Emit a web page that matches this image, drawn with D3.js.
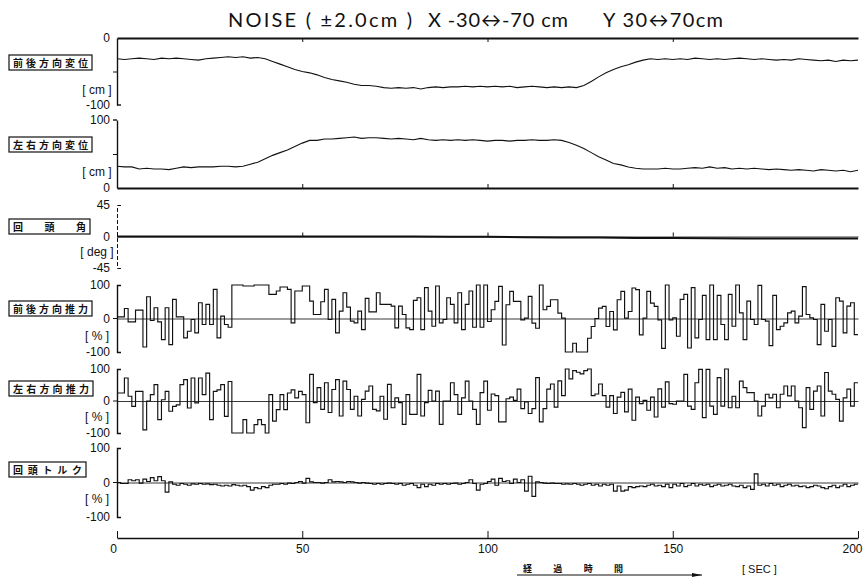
<!DOCTYPE html>
<html>
<head>
<meta charset="utf-8">
<script src="https://cdn.jsdelivr.net/npm/d3@7"></script>
<style>
  body { margin: 0; background: #fff; }
  svg { display: block; }
  .num { font-family: "Liberation Sans Narrow", "Liberation Sans", sans-serif; font-size: 12px; fill: #111; }
  .jp { font-family: "Noto Sans CJK JP", sans-serif; font-size: 10px; font-weight: 600; fill: #111; }
</style>
</head>
<body>
<svg id="chart" width="863" height="578"></svg>
<script>
// ---------- data ----------
const timeTicks = [0, 50, 100, 150, 200];

// 前後方向変位 [cm], one value every 2 s (t = 0 … 200)
const surgePosition = [
  -31,-32,-31,-30,-31,-32,-30,-31,-30,-31,-32,-33,-31,-30,-29,-28,-29,-28,-30,-29,
  -31,-35,-39,-43,-47,-50,-52,-55,-59,-62,-64,-66,-69,-71,-71,-72,-74,-75,-74,-75,
  -74,-76,-74,-73,-74,-73,-73,-72,-73,-72,-73,-72,-73,-72,-74,-73,-72,-73,-74,-73,
  -74,-73,-74,-71,-65,-58,-52,-47,-43,-40,-36,-33,-31,-32,-31,-32,-31,-32,-30,-31,
  -32,-31,-32,-31,-30,-31,-32,-31,-32,-33,-32,-33,-31,-32,-33,-34,-33,-35,-33,-34,-33
];

// 左右方向変位 [cm], one value every 2 s (t = 0 … 200)
const swayPosition = [
  32,31,31,28,29,28,28,27,29,31,30,31,31,31,32,32,31,32,35,38,
  43,48,52,56,61,66,70,70,72,72,73,74,75,73,74,74,73,72,73,72,
  71,73,71,70,71,70,71,70,71,70,69,70,70,69,70,70,71,70,70,71,
  70,67,63,58,52,46,41,36,34,31,29,28,28,28,29,28,28,29,30,29,
  31,29,30,28,29,28,29,28,27,28,27,26,27,26,25,27,26,25,26,24,26
];

// 回頭角 [deg], one value every 10 s (t = 0 … 200)
const yawAngle = [0,0,0,0,0,0,0,0,0,-0.5,-0.5,-1,-1.5,-1.5,-2,-2,-2.5,-3,-3,-3,-3];

// 前後方向推力 [%], held for 1 s each (t = 0 … 199)
const surgeThrust = [
  5,5,30,-10,-10,25,25,-85,65,-6,
  32,-10,-63,32,-78,57,5,5,-58,-38,
  -3,-43,47,-18,42,-18,87,-58,7,-18,
  -26,100,100,100,97,97,97,100,100,100,
  100,72,72,82,94,94,87,-13,82,82,
  97,97,52,12,12,50,87,-3,57,-43,
  22,77,34,-8,-13,22,-33,60,20,20,
  77,42,42,42,37,-28,37,12,-28,-33,
  54,62,-33,92,22,-23,97,-13,-3,62,
  42,-13,77,-33,42,82,-26,100,-26,100,
  -9,26,51,96,-79,41,81,51,51,-4,
  1,66,-14,-29,100,26,36,56,56,16,
  1,-100,-100,-74,-100,-100,-100,-59,-24,0,
  31,36,-24,21,-34,56,81,1,21,91,
  86,-49,1,81,46,36,-4,-89,100,-4,
  2,-53,57,72,-88,92,-58,-3,69,-63,
  100,-63,69,-18,-63,72,-23,100,17,-63,
  52,-3,-18,99,-3,-8,-81,69,-33,-23,
  -13,17,22,-13,7,95,12,2,-3,-78,
  42,-38,-3,-83,62,52,-43,37,47,-48
];

// 左右方向推力 [%], held for 1 s each (t = 0 … 199)
const swayThrust = [
  25,25,72,15,-17,30,30,-90,0,20,
  51,-58,4,30,-32,-17,-12,51,67,-22,
  72,-6,72,20,87,-58,30,35,51,-48,
  61,-100,-100,-100,-58,-100,-100,-74,-58,-74,
  -100,20,-63,-27,20,-27,25,35,10,30,
  20,-68,83,-5,42,-26,57,-36,36,67,
  -47,62,36,-26,15,-47,5,31,47,-26,
  -31,15,-57,52,-21,10,-5,-73,20,-42,
  -42,83,-47,-5,33,0,31,-73,0,0,
  57,20,-42,10,62,0,-26,-73,26,62,
  -29,22,17,-65,-65,7,12,2,37,-24,
  -3,-39,-24,73,-65,-24,37,53,-19,63,
  17,100,69,95,90,85,95,100,17,22,
  53,17,-19,17,-39,12,27,-34,37,-60,
  12,-8,2,-29,12,-50,38,-19,60,-8,
  -10,0,0,83,-16,-26,57,99,-52,99,
  -16,-42,73,-16,100,-21,15,-21,62,42,
  26,26,0,-47,-16,21,10,21,-21,21,
  47,16,47,0,-21,-83,42,-26,31,47,
  -47,89,31,21,5,-63,10,37,-16,57
];

// 回頭トルク [%], held for 1 s each (t = 0 … 199)
const yawTorque = [
  0,-3,-3,8,5,8,-2,10,3,14,
  5,17,5,-28,2,-5,-8,-3,-5,-8,
  -4,-5,-3,-5,-4,-6,-5,-8,-10,-8,
  -10,-6,-8,-10,-8,-12,-22,-15,-18,-12,
  -15,-8,-5,-5,-3,-5,-2,-3,0,3,
  -2,12,2,0,0,-2,0,8,2,3,
  2,0,3,2,0,-2,0,-2,-3,-5,
  -3,-5,-3,-2,-3,-5,-3,-8,-5,-3,
  -8,-15,-5,-12,-5,-8,-3,-5,-3,-5,
  -3,-2,-5,-3,0,8,-3,-22,-5,-3,
  3,10,-8,12,3,5,-3,10,0,8,
  -25,18,-40,2,0,-2,-3,-2,-3,-3,
  -5,-4,-5,-3,-5,-8,-5,-3,-8,-5,
  -10,-5,-8,-5,-25,-10,-25,-22,-12,-15,
  -12,-10,-12,-8,-5,-10,-8,-12,-5,-15,
  -5,-10,-3,-12,-8,-3,-10,-5,-8,-5,
  -12,-8,-5,-10,-8,-5,-10,-12,-8,-15,
  -10,-20,25,-8,-5,-10,-3,-8,-5,-12,
  -8,-5,-10,-8,-12,-10,-15,-12,-8,-10,
  -15,-18,-12,-8,-15,-10,-5,-12,-8,-5
];

const panelNames = ["前後方向変位", "左右方向変位", "回頭角", "前後方向推力", "左右方向推力", "回頭トルク"];
const unitNames  = ["[ cm ]", "[ cm ]", "[ deg ]", "[ % ]", "[ % ]", "[ % ]"];
const axisTickLabels = [[0, -100], [100, 0], [45, 0, -45], [100, 0, -100], [100, 0, -100], [100, 0, -100]];

// ---------- layout ----------
const svg = d3.select("#chart");
const x = d3.scaleLinear().domain([0, 200]).range([117, 858]);

const panels = [
  { values: surgePosition, step: 2, kind: "line", domain: [-100, 0],   top: 38,  bottom: 105, boxY: 55,  boxW: 83, unitY: 94,  mid: -50 },
  { values: swayPosition,  step: 2, kind: "line", domain: [0, 100],    top: 120, bottom: 188, boxY: 137, boxW: 83, unitY: 176, mid: 50 },
  { values: yawAngle,      step: 10, kind: "line", domain: [-45, 45],  top: 205, bottom: 268, boxY: 219, boxW: 81, unitY: 256 },
  { values: surgeThrust,   step: 1, kind: "step", domain: [-100, 100], top: 285, bottom: 352, boxY: 301, boxW: 83, unitY: 340 },
  { values: swayThrust,    step: 1, kind: "step", domain: [-100, 100], top: 369, bottom: 433, boxY: 381, boxW: 84, unitY: 421 },
  { values: yawTorque,     step: 1, kind: "step", domain: [-100, 100], top: 448, bottom: 517, boxY: 462, boxW: 77, unitY: 503 }
];

// ---------- title ----------
const title = svg.append("g")
  .style("font-family", "Lato, 'Open Sans', sans-serif")
  .style("font-size", "20px")
  .attr("fill", "#111");
title.append("text").attr("x", 228).attr("y", 27).attr("textLength", 184).attr("lengthAdjust", "spacing").text("NOISE ( ±2.0cm )");
title.append("text").attr("x", 428).attr("y", 27).attr("textLength", 140).attr("lengthAdjust", "spacing").text("X -30↔-70 cm");
title.append("text").attr("x", 603).attr("y", 27).attr("textLength", 120).attr("lengthAdjust", "spacing").text("Y 30↔70cm");

// ---------- panels ----------
panels.forEach((p, i) => {
  const y = d3.scaleLinear().domain(p.domain).range([p.bottom, p.top]);
  const g = svg.append("g");

  // left axis with bracket ends and numeric labels
  const axis = d3.axisLeft(y)
    .tickValues(axisTickLabels[i])
    .tickSize(0)
    .tickSizeOuter(i < 2 ? 0 : -4)
    .tickPadding(7)
    .tickFormat(d => String(d));
  const ag = g.append("g").attr("transform", `translate(${x(0)},0)`).call(axis);
  ag.select(".domain").attr("stroke", "#111").attr("stroke-width", i === 2 ? 1 : 1.4)
    .attr("stroke-dasharray", i === 2 ? "4,2" : null);
  ag.selectAll("text").attr("class", "num").attr("fill", "#111").attr("font-family", null).attr("font-size", null);

  if (p.mid !== undefined) {
    const midAxis = d3.axisLeft(y).tickValues([p.mid]).tickSize(4).tickSizeOuter(0).tickFormat("");
    const mg = g.append("g").attr("transform", `translate(${x(0)},0)`).call(midAxis);
    mg.select(".domain").remove();
    mg.selectAll("line").attr("stroke", "#111");
  }
  if (i === 0) {
    g.append("line").attr("x1", x(0)).attr("x2", x(0) + 4).attr("y1", y(-100)).attr("y2", y(-100)).attr("stroke", "#111").attr("stroke-width", 1.4);
  }
  if (i === 1) {
    g.append("line").attr("x1", x(0) - 4).attr("x2", x(0)).attr("y1", y(100)).attr("y2", y(100)).attr("stroke", "#111").attr("stroke-width", 1.4);
  }

  // horizontal frame / reference lines with time ticks
  if (i === 0) {
    const top = d3.axisTop(x).tickValues([50, 100, 150]).tickSize(-4).tickSizeOuter(0).tickFormat("");
    const tg = g.append("g").attr("transform", `translate(0,${y(0)})`).call(top);
    tg.select(".domain").attr("stroke", "#111").attr("stroke-width", 2);
    tg.selectAll("line").attr("stroke", "#111");
  } else if (i === 1 || i === 2) {
    const bot = d3.axisBottom(x).tickValues([50, 100, 150]).tickSize(-4).tickSizeOuter(0).tickFormat("");
    const bg = g.append("g").attr("transform", `translate(0,${y(0)})`).call(bot);
    bg.select(".domain").attr("stroke", "#111").attr("stroke-width", i === 1 ? 2 : 0.8);
    bg.selectAll("line").attr("stroke", "#111");
  } else {
    const ref = d3.axisBottom(x).tickValues([]).tickSizeOuter(0);
    const rg = g.append("g").attr("transform", `translate(0,${y(0)})`).call(ref);
    rg.select(".domain").attr("stroke", "#222").attr("stroke-width", 0.9);
    g.append("line").attr("x1", x(0) - 4).attr("x2", x(0)).attr("y1", y(0)).attr("y2", y(0)).attr("stroke", "#111");
  }

  // data trace
  let pts = p.values.map((v, k) => [k * p.step, v]);
  let line;
  if (p.kind === "step") {
    pts.push([p.values.length * p.step, p.values[p.values.length - 1]]);
    line = d3.line().x(d => x(d[0])).y(d => y(d[1])).curve(d3.curveStepAfter);
  } else {
    line = d3.line().x(d => x(d[0])).y(d => y(d[1]));
  }
  g.append("path").datum(pts)
    .attr("d", line)
    .attr("fill", "none")
    .attr("stroke", "#111")
    .attr("stroke-width", i === 2 ? 2 : (p.kind === "step" ? 1.15 : 1.1))
    .attr("stroke-linejoin", "miter");

  // boxed channel name
  const bx = 9, bh = 15;
  g.append("rect").attr("x", bx).attr("y", p.boxY).attr("width", p.boxW).attr("height", bh)
    .attr("fill", "none").attr("stroke", "#111").attr("stroke-width", 1.2);
  g.append("text").attr("class", "jp")
    .attr("x", bx + 4).attr("y", p.boxY + 11.5)
    .attr("textLength", p.boxW - 8).attr("lengthAdjust", "spacing")
    .text(panelNames[i]);

  // unit label
  g.append("text").attr("class", "num")
    .attr("x", 97).attr("y", p.unitY).attr("text-anchor", "middle")
    .text(unitNames[i]);
});

// ---------- time axis ----------
const xAxis = d3.axisBottom(x).tickValues(timeTicks).tickSize(-7).tickSizeOuter(0).tickPadding(6).tickFormat(d => String(d));
const xg = svg.append("g").attr("transform", "translate(0,538)").call(xAxis);
xg.select(".domain").attr("stroke", "#111").attr("stroke-width", 1.6);
xg.selectAll("line").attr("stroke", "#111");
xg.selectAll("text").attr("class", "num").attr("fill", "#111").attr("font-family", null).attr("font-size", null)
  .attr("dx", d => d === 0 ? -4 : (d === 200 ? -6 : 0));

svg.append("text").attr("class", "jp")
  .attr("x", 523).attr("y", 572)
  .attr("textLength", 100).attr("lengthAdjust", "spacing")
  .style("font-size", "9px")
  .text("経過時間");
svg.append("defs").append("marker")
  .attr("id", "arrow").attr("viewBox", "0 0 10 6").attr("refX", 10).attr("refY", 3)
  .attr("markerWidth", 10).attr("markerHeight", 6).attr("orient", "auto")
  .append("path").attr("d", "M0,1 L10,3 L0,5").attr("fill", "#111");
svg.append("line").attr("x1", 517).attr("x2", 702).attr("y1", 575).attr("y2", 575)
  .attr("stroke", "#111").attr("stroke-width", 1).attr("marker-end", "url(#arrow)");
svg.append("text").attr("class", "num")
  .attr("x", 742).attr("y", 573).style("font-size", "11px")
  .text("[ SEC ]");
</script>
</body>
</html>
